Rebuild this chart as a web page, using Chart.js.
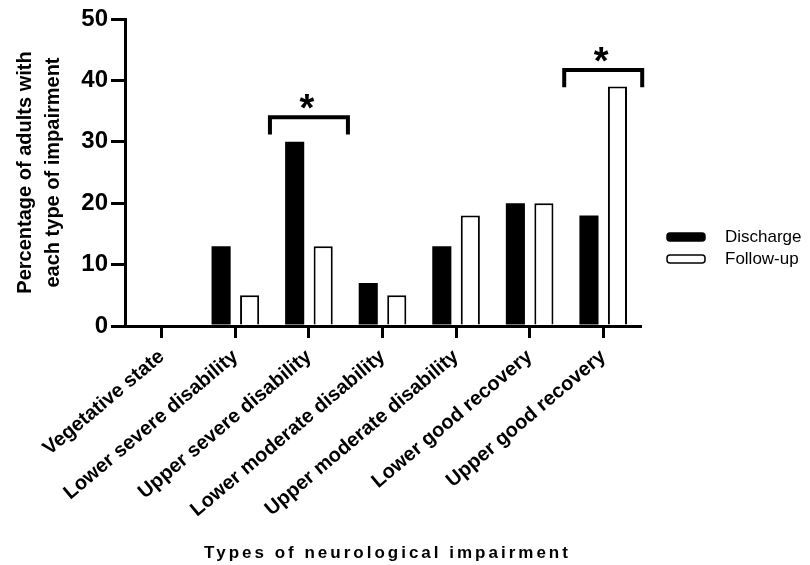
<!DOCTYPE html>
<html>
<head>
<meta charset="utf-8">
<script src="https://cdn.jsdelivr.net/npm/chart.js@4/dist/chart.umd.min.js"></script>
<style>
html, body { margin: 0; padding: 0; background: #fff; }
</style>
</head>
<body>
<canvas id="impairmentChart" width="810" height="565"></canvas>
<script>
const categories = ['Vegetative state', 'Lower severe disability', 'Upper severe disability',
    'Lower moderate disability', 'Upper moderate disability', 'Lower good recovery', 'Upper good recovery'];
const discharge = [0, 13, 30, 7, 13, 20, 18];
const followUp = [0, 5, 13, 5, 18, 20, 39];
const yTicks = [0, 10, 20, 30, 40, 50];
// significance brackets: category index and bracket height (in %)
const sigIndex = [2, 6];
const sigLevel = [34, 41.7];

const FONT = 'Arial, "Liberation Sans", sans-serif';
Chart.defaults.font.family = FONT;
Chart.defaults.color = '#000';

const extras = {
    id: 'extras',
    afterDraw(chart) {
        const ctx = chart.ctx;
        const x = chart.scales.x, y = chart.scales.y;
        const area = chart.chartArea;
        const half = (x.getPixelForValue(1) - x.getPixelForValue(0)) * 0.53;

        // brackets + asterisks
        ctx.save();
        ctx.strokeStyle = '#000';
        ctx.fillStyle = '#000';
        ctx.lineWidth = 4;
        ctx.lineCap = 'butt';
        sigIndex.forEach((idx, i) => {
            const cx = x.getPixelForValue(idx);
            const top = y.getPixelForValue(sigLevel[i]);
            const leg = y.getPixelForValue(sigLevel[i] - 2.8);
            ctx.beginPath();
            ctx.moveTo(cx - half, leg);
            ctx.lineTo(cx - half, top);
            ctx.lineTo(cx + half, top);
            ctx.lineTo(cx + half, leg);
            ctx.stroke();
            const star = y.getPixelForValue(sigLevel[i] + 3.1);
            ctx.font = 'bold 38px ' + FONT;
            ctx.textAlign = 'center';
            ctx.textBaseline = 'alphabetic';
            ctx.fillText('*', cx - 2, star + 23);
        });
        ctx.restore();

        // legend
        ctx.save();
        const lx = area.right + 27;
        chart.data.datasets.forEach((ds, i) => {
            const ly = 233 + i * 22;
            ctx.beginPath();
            ctx.roundRect(lx, ly, 38, 8, 3);
            ctx.fillStyle = ds.backgroundColor;
            ctx.fill();
            ctx.lineWidth = 1.5;
            ctx.strokeStyle = '#000';
            ctx.stroke();
            ctx.fillStyle = '#000';
            ctx.font = '17px ' + FONT;
            ctx.textAlign = 'left';
            ctx.textBaseline = 'middle';
            ctx.fillText(ds.label, lx + 58, ly + 4);
        });
        ctx.restore();

        // x axis title (letter-spaced)
        ctx.save();
        ctx.font = 'bold 17px ' + FONT;
        ctx.letterSpacing = '3px';
        ctx.fillStyle = '#000';
        ctx.textAlign = 'center';
        ctx.textBaseline = 'alphabetic';
        ctx.fillText('Types of neurological impairment', (area.left + area.right) / 2 + 5, 558);
        ctx.restore();
    }
};

new Chart(document.getElementById('impairmentChart'), {
    type: 'bar',
    data: {
        labels: categories,
        datasets: [{
            label: 'Discharge',
            data: discharge,
            backgroundColor: '#000',
            borderColor: '#000',
            borderWidth: 0
        }, {
            label: 'Follow-up',
            data: followUp,
            backgroundColor: '#fff',
            borderColor: '#000',
            borderWidth: 2
        }]
    },
    plugins: [extras],
    options: {
        responsive: false,
        animation: false,
        categoryPercentage: 0.775,
        barPercentage: 0.67,
        layout: { padding: { left: 0, right: 170, top: 19, bottom: 0 } },
        plugins: {
            legend: { display: false },
            tooltip: { enabled: false }
        },
        scales: {
            x: {
                afterFit: s => { s.height = 565 - 326; },
                grid: {
                    offset: false,
                    drawOnChartArea: false,
                    tickLength: 12,
                    lineWidth: 3,
                    color: '#000'
                },
                border: { display: true, color: '#000', width: 3 },
                ticks: {
                    font: { size: 20, weight: 'bold' },
                    minRotation: 40,
                    maxRotation: 40,
                    padding: 7
                }
            },
            y: {
                min: 0,
                max: 50,
                afterFit: s => { s.width = 125; },
                afterBuildTicks: s => { s.ticks = yTicks.map(v => ({ value: v })); },
                grid: {
                    drawOnChartArea: false,
                    tickLength: 14,
                    lineWidth: 3,
                    color: '#000'
                },
                border: { display: true, color: '#000', width: 3 },
                ticks: {
                    font: { size: 24, weight: 'bold' },
                    padding: 3
                },
                title: {
                    display: true,
                    text: ['Percentage of adults with', 'each type of impairment'],
                    font: { size: 20, weight: 'bold', lineHeight: 1.4 },
                    padding: { top: 11, bottom: 0 }
                }
            }
        }
    }
});
</script>
</body>
</html>
